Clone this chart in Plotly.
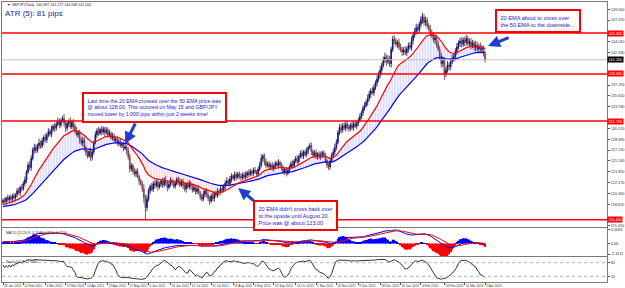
import pandas as pd
import plotly.graph_objects as go

# ---------------- data (GBPJPY daily) ----------------
first_open = 119.1
closes = [
    119.4, 119.2, 119.8, 119.5, 119.9, 119.6, 120.1, 119.8, 120.3, 120.9,
    120.6, 121.4, 121.2, 122.0, 122.6, 123.8, 124.9, 124.5, 125.9, 127.2,
    127.6, 127.1, 127.9, 128.3, 127.8, 128.6, 129.2, 128.8, 129.5, 130.1,
    129.7, 130.4, 130.9, 130.6, 131.2, 131.6, 131.1, 131.8, 132.1, 131.4,
    130.6, 131.3, 131.7, 130.8, 131.5, 130.9, 130.2, 129.6, 129.9, 128.8,
    128.3, 128.7, 127.6, 126.8, 126.3, 127.0, 126.1, 126.9, 128.4, 129.6,
    130.2, 129.8, 130.4, 130.0, 130.5, 129.9, 130.3, 129.6, 129.8, 129.1,
    129.4, 128.7, 128.9, 128.3, 128.5, 127.9, 128.1, 127.5, 127.7, 127.1,
    126.2, 124.3, 124.8, 123.9, 123.5, 123.9, 123.1, 122.4, 122.0, 121.2,
    119.8, 118.3, 119.6, 120.9, 121.6, 121.1, 122.0, 121.7, 122.3, 121.5,
    121.9, 122.4, 121.8, 122.6, 122.1, 121.4, 121.9, 122.5, 122.2, 121.6,
    122.0, 122.7, 122.3, 121.8, 122.4, 121.7, 121.2, 121.9, 121.5, 122.1,
    121.6, 121.0, 121.4, 120.8, 121.2, 120.6, 120.0, 119.6, 120.4, 120.9,
    120.3, 119.8, 119.3, 120.1, 119.7, 120.5, 120.2, 120.8, 120.6, 121.2,
    121.0, 121.6, 122.1, 122.4, 122.0, 122.7, 123.2, 122.8, 123.4, 123.0,
    123.5, 123.1, 122.9, 123.4, 123.0, 123.3, 123.7, 123.4, 123.9, 123.6,
    124.1, 123.8, 123.5, 124.2, 124.9, 125.9, 126.3, 125.4, 124.8, 125.1,
    124.6, 124.9, 124.4, 124.7, 125.2, 124.8, 125.3, 124.9, 124.3, 123.8,
    124.2, 123.6, 124.0, 124.6, 125.1, 124.8, 125.5, 125.9, 125.4, 126.2,
    126.7, 126.3, 126.9, 126.5, 127.1, 127.6, 127.9, 127.0, 126.4, 126.8,
    126.2, 126.6, 126.1, 126.5, 126.8, 126.3, 125.6, 124.9, 124.6, 125.5,
    126.4, 126.9, 127.6, 128.4, 129.9, 130.7, 130.3, 131.0, 130.6, 131.2,
    130.8, 130.5, 131.1, 130.7, 131.3, 130.9, 131.4, 131.8, 132.4, 133.0,
    133.7, 134.1, 134.6, 135.2, 135.9, 136.4, 136.1, 136.9, 137.6, 138.2,
    138.9, 139.6, 140.4, 141.2, 141.6, 140.9, 141.3, 140.6, 142.8, 144.4,
    144.1, 143.6, 143.9, 143.2, 142.8, 142.4, 142.7, 142.3, 142.9, 143.4,
    143.1, 144.2, 145.0, 145.6, 146.2, 145.8, 146.7, 147.4, 147.8, 147.0,
    147.3, 146.5, 146.0, 145.4, 145.0, 144.3, 144.6, 143.6, 142.9, 141.8,
    140.6, 141.1, 139.0, 139.6, 140.4, 140.1, 140.9, 141.4, 141.7, 142.5,
    143.2, 143.8, 144.1, 143.6, 144.3, 143.9, 144.5, 143.7, 144.0, 143.4,
    143.8, 143.1, 143.5, 142.9, 143.3, 142.8, 143.0, 142.2, 141.2,
]
# upper / lower wick lengths, tenths of a yen
wick_up = [
    3,4,2,5,3,4,3,5,2,4, 5,3,6,4,5,3,4,6,5,4, 6,5,3,7,4,5,3,6,4,5,
    4,6,3,5,4,6,5,3,4,7, 5,4,3,6,4,5,4,6,3,5, 4,6,5,3,4,5,6,4,3,5,
    4,6,3,5,4,3,5,4,6,3, 5,4,3,5,4,6,3,4,5,3, 6,5,4,3,6,4,5,3,4,5,
    7,5,6,4,3,5,4,6,3,5, 4,3,5,4,6,3,4,5,3,4, 5,3,4,6,3,4,5,3,4,5,
    3,4,5,3,4,6,3,4,5,3, 4,5,3,4,6,3,4,5,3,4, 5,3,4,6,3,5,4,3,5,4,
    3,4,5,3,4,6,3,5,4,3, 4,5,3,4,5,6,3,4,5,3, 4,3,5,4,3,4,5,3,4,5,
    3,4,5,3,4,5,3,4,5,3, 4,5,3,4,5,3,4,5,3,4, 5,3,4,5,3,4,5,3,4,5,
    4,5,6,5,4,5,6,4,5,4, 5,4,3,5,4,6,3,4,5,3, 4,5,4,6,5,4,6,5,4,6,
    5,6,4,5,7,4,6,5,4,5, 6,5,4,6,5,4,5,6,4,5, 5,6,4,5,6,5,4,6,7,5,
    6,5,4,6,5,4,7,5,6,4, 5,6,4,5,6,4,5,6,4,5, 6,4,5,6,4,5,6,4,5,6,
    5,4,6,5,4,6,5,4,3,
]
wick_dn = [
    4,3,5,3,4,3,5,4,3,4, 3,5,4,3,4,5,3,4,5,3, 5,4,3,5,4,3,6,4,5,3,
    4,5,3,6,4,3,5,4,3,5, 6,4,5,3,4,5,4,3,5,6, 4,5,6,5,4,3,6,5,4,3,
    5,4,3,5,4,6,3,5,4,3, 4,5,3,4,5,3,4,5,3,6, 5,6,4,5,4,5,3,6,4,5,
    8,19,6,4,5,3,4,5,3,6, 3,4,5,3,4,6,3,4,5,3, 4,3,5,4,3,5,4,6,3,4,
    5,4,3,5,4,3,5,4,3,5, 4,5,6,3,4,5,3,4,5,3, 4,3,5,4,3,4,5,3,4,5,
    3,4,5,3,4,3,5,4,3,4, 4,3,5,4,3,4,5,6,4,3, 5,4,3,5,4,3,4,5,3,4,
    4,5,3,4,3,5,4,3,5,4, 3,4,5,3,4,5,3,6,4,3, 4,5,3,4,5,3,4,5,5,4,
    3,4,5,4,3,4,5,4,3,5, 4,5,3,4,5,3,4,5,3,4, 5,4,3,5,4,6,3,5,4,5,
    4,5,6,4,5,6,4,5,6,4, 5,4,6,5,4,6,5,4,5,6, 4,5,6,4,5,6,4,5,6,5,
    6,5,4,6,5,4,6,5,4,6, 6,5,9,5,4,6,5,4,5,6, 5,4,6,5,4,6,5,4,5,6,
    4,5,6,4,5,4,6,5,4,
]
ema20_seed, ema50_seed = 118.7, 118.4
ema12_seed, ema26_seed, signal_seed = 119.0, 118.6, 0.3

sr_levels = [145.35, 139.00, 131.70, 116.40]
price_ticks = [149.05, 147.37, 145.69, 144.01, 142.33, 140.65, 138.97, 137.29,
               135.61, 133.93, 132.25, 130.57, 128.89, 127.21, 125.53, 123.85,
               122.17, 120.49, 118.81, 117.13, 115.45]
date_labels = ["26 Jan 2012", "14 Feb 2012", "4 Mar 2012", "22 Mar 2012", "10 Apr 2012",
               "29 Apr 2012", "17 May 2012", "5 Jun 2012", "24 Jun 2012", "12 Jul 2012",
               "31 Jul 2012", "19 Aug 2012", "6 Sep 2012", "25 Sep 2012", "14 Oct 2012",
               "1 Nov 2012", "20 Nov 2012", "9 Dec 2012", "28 Dec 2012", "16 Jan 2013",
               "4 Feb 2013", "24 Feb 2013", "14 Mar 2013", "2 Apr 2013"]

# ---------------- derived series ----------------
n = min(len(closes), len(wick_up), len(wick_dn))
closes = closes[:n]
idx = list(range(n))
dates = pd.bdate_range("2012-01-26", periods=n)
opens = [first_open] + closes[:-1]
highs = [max(o, c) + u / 10 for o, c, u in zip(opens, closes, wick_up)]
lows = [min(o, c) - d / 10 for o, c, d in zip(opens, closes, wick_dn)]


def ema(vals, period, seed):
    a = 2.0 / (period + 1)
    e, out = seed, []
    for v in vals:
        e = e + a * (v - e)
        out.append(e)
    return out


def sma(vals, period):
    out = []
    for i in range(len(vals)):
        w = vals[max(0, i - period + 1):i + 1]
        out.append(sum(w) / len(w))
    return out


ema20 = ema(closes, 20, ema20_seed)
ema50 = ema(closes, 50, ema50_seed)
diff = [a - b for a, b in zip(ema20, ema50)]
hatch_col = ["rgba(80,80,255,0.33)" if d >= 0 else "rgba(255,80,80,0.33)" for d in diff]

e12 = ema(closes, 12, ema12_seed)
e26 = ema(closes, 26, ema26_seed)
macd = [a - b for a, b in zip(e12, e26)]
signal = ema(macd, 9, signal_seed)
hist = [a - b for a, b in zip(macd, signal)]
hist_col = ["#0000ff" if h >= 0 else "#ff0000" for h in hist]

raw_k = []
for i in range(n):
    lo = min(lows[max(0, i - 13):i + 1])
    hi = max(highs[max(0, i - 13):i + 1])
    raw_k.append(100 * (closes[i] - lo) / (hi - lo))
stoch = sma(raw_k, 3)

date_pos = [int(dates.searchsorted(pd.to_datetime(s, format="%d %b %Y"))) for s in date_labels]
# hide price ticks that sit under the level tags
tag_levels = sr_levels + [closes[-1]]
shown_ticks = [t for t in price_ticks if min(abs(t - lv) for lv in tag_levels) > 0.9]

# ---------------- geometry ----------------
W, H = 625, 288
ML, MR, MT, MB = 2, 18, 2, 5
PH = H - MT - MB


def py(p):  # pixel y -> paper
    return (H - MB - p) / PH


def pxx(p):  # pixel x -> paper
    return (p - ML) / (W - ML - MR)


x_range = [-0.64, 385.9]
main_range = [115.28, 150.16]
FONT = "Liberation Sans"
BORDER = "#7a7a7a"

fig = go.Figure()
fig.add_trace(go.Bar(x=idx, y=diff, base=ema50, width=0.4,
                     marker=dict(color=hatch_col, line=dict(width=0)),
                     hoverinfo="skip", xaxis="x", yaxis="y"))
fig.add_trace(go.Candlestick(x=idx, open=opens, high=highs, low=lows, close=closes,
                             increasing=dict(line=dict(color="#0c0c6a", width=0.8), fillcolor="#0c0c6a"),
                             decreasing=dict(line=dict(color="#6a2a2a", width=0.8), fillcolor="#d8d8d8"),
                             whiskerwidth=0, xaxis="x", yaxis="y"))
fig.add_trace(go.Scatter(x=idx, y=ema50, mode="lines", line=dict(color="#0000ff", width=1.2),
                         xaxis="x", yaxis="y"))
fig.add_trace(go.Scatter(x=idx, y=ema20, mode="lines", line=dict(color="#ff0000", width=1.2),
                         xaxis="x", yaxis="y"))

# MACD panel
m_hi = max(max(macd), max(signal))
m_lo = min(min(macd), min(signal))
pad = 0.08 * (m_hi - m_lo)
macd_range = [m_lo - pad, m_hi + pad]
hs = 0.3
fig.add_trace(go.Bar(x=idx, y=hist, width=0.75, marker=dict(color=hist_col, line=dict(width=0)),
                     xaxis="x2", yaxis="y2"))
fig.add_trace(go.Scatter(x=idx, y=macd, mode="lines", line=dict(color="#0000ff", width=1),
                         xaxis="x2", yaxis="y4"))
fig.add_trace(go.Scatter(x=idx, y=signal, mode="lines", line=dict(color="#ff0000", width=1),
                         xaxis="x2", yaxis="y4"))

# oscillator panel
fig.add_trace(go.Scatter(x=idx, y=stoch, mode="lines", line=dict(color="#000000", width=0.8),
                         xaxis="x3", yaxis="y3"))

tickfont = dict(family=FONT, size=3.8, color="#333333")
xcommon = dict(range=x_range, showgrid=False, zeroline=False, showline=True, mirror=True,
               linecolor=BORDER, linewidth=1, domain=[0, 1], automargin=False)
ycommon = dict(showgrid=False, zeroline=False, showline=True, mirror=True, automargin=False,
               linecolor=BORDER, linewidth=1, side="right", tickfont=tickfont,
               ticks="outside", ticklen=2, tickcolor="#555555")

fig.update_layout(
    width=W, height=H, margin=dict(l=ML, r=MR, t=MT, b=MB),
    paper_bgcolor="white", plot_bgcolor="white", showlegend=False, barmode="overlay",
    xaxis=dict(**xcommon, anchor="y", showticklabels=False, rangeslider=dict(visible=False)),
    xaxis2=dict(**xcommon, anchor="y2", showticklabels=False, matches="x"),
    xaxis3=dict(**xcommon, anchor="y3", matches="x", tickvals=date_pos, ticktext=date_labels,
                tickangle=0, tickfont=dict(family=FONT, size=3.2, color="#333333"), ticks="outside",
                ticklen=2, tickcolor="#555555", ticklabelposition="outside right"),
    yaxis=dict(**ycommon, domain=[py(227), py(2)], range=main_range,
               tickvals=shown_ticks, ticktext=[f"{v:.3f}" for v in shown_ticks]),
    yaxis2=dict(showgrid=False, zeroline=False, showline=True, mirror=True, linecolor=BORDER,
                linewidth=1, domain=[py(256), py(228)], anchor="x2", automargin=False,
                range=[macd_range[0] * hs, macd_range[1] * hs], showticklabels=False, ticks=""),
    yaxis4=dict(**{k: v for k, v in ycommon.items() if k not in ("showline", "mirror")},
                overlaying="y2", anchor="x2", range=macd_range,
                tickvals=[m_hi, 0, m_lo], ticktext=[f"{m_hi:.4f}", "0.00", f"{m_lo:.4f}"]),
    yaxis3=dict(**ycommon, domain=[py(282), py(257)], anchor="x3", range=[-5, 105],
                tickvals=[80, 20], ticktext=["80", "20"]),
)

shapes = []
for lv in sr_levels:
    shapes.append(dict(type="line", xref="x domain", x0=0, x1=1, yref="y", y0=lv, y1=lv,
                       line=dict(color="#ff0000", width=1.5)))
shapes.append(dict(type="line", xref="x domain", x0=0, x1=1, yref="y", y0=closes[-1], y1=closes[-1],
                   line=dict(color="#c0c0c0", width=1)))
for lv in (80, 20):
    shapes.append(dict(type="line", xref="x3 domain", x0=0, x1=1, yref="y3", y0=lv, y1=lv,
                       line=dict(color="#a0a0a0", width=0.8, dash="dot")))
fig.update_layout(shapes=shapes)

ann = []
for lv in sr_levels:
    ann.append(dict(xref="x domain", x=1.0, xanchor="left", yref="y", y=lv, text=f"{lv:.3f}",
                    showarrow=False, bgcolor="#ff0000", font=dict(family=FONT, size=3.8, color="white"),
                    borderpad=0.5))
ann.append(dict(xref="x domain", x=1.0, xanchor="left", yref="y", y=closes[-1], text=f"{closes[-1]:.3f}",
                showarrow=False, bgcolor="#000000", font=dict(family=FONT, size=3.8, color="white"),
                borderpad=0.5))
ann.append(dict(xref="paper", x=pxx(5), xanchor="left", yref="paper", y=py(1), yanchor="top",
                text="\u25bc GBPJPY,Daily  140.987 141.272 140.068 " + f"{closes[-1]:.3f}",
                showarrow=False, font=dict(family=FONT, size=3.6, color="#222222")))
ann.append(dict(xref="paper", x=pxx(3), xanchor="left", yref="paper", y=py(7), yanchor="top",
                text="ATR (5): 81 pips", showarrow=False,
                font=dict(family=FONT, size=8, color="#1c1ca0")))
ann.append(dict(xref="paper", x=pxx(4), xanchor="left", yref="paper", y=py(228.5), yanchor="top",
                text=f"MACD (12,26,9) {macd[-1]:.4f} {signal[-1]:.4f} {hist[-1]:.4f}",
                showarrow=False, font=dict(family=FONT, size=3.4, color="#222222")))
ann.append(dict(xref="paper", x=pxx(4), xanchor="left", yref="paper", y=py(258), yanchor="top",
                text=f"Stoch (14,3) {stoch[-1]:.4f}", showarrow=False,
                font=dict(family=FONT, size=3.4, color="#222222")))

boxes = [
    (50.5, 136.2, 5.25, "Last time the 20 EMA crossed over the 50 EMA price was<br>"
                        "@ about 128.00. This occured on May 15 and GBP/JPY<br>"
                        "moved lower by 1,000 pips within just 2 weeks time!"),
    (159.7, 119.46, 5.5, "20 EMA didn't cross back over<br>to the upside until August 20.<br>"
                         "Price was @ about 123.00"),
    (314.4, 149.08, 5.6, "20 EMA about to cross over<br>the 50 EMA to the downside..."),
]
for bx, by, fs, txt in boxes:
    ann.append(dict(xref="x", yref="y", x=bx, y=by, xanchor="left", yanchor="top", text=txt,
                    align="left", showarrow=False, font=dict(family=FONT, size=fs, color="#1a1ad0"),
                    bgcolor="white", bordercolor="#ff0000", borderwidth=2, borderpad=3.5))
arrows = [(78.0, 128.15, 85.0, 131.56), (150.2, 121.33, 161.0, 119.2), (309.9, 143.34, 324.0, 144.74)]
for hx, hy, tx, ty in arrows:
    ann.append(dict(xref="x", yref="y", x=hx, y=hy, axref="x", ayref="y", ax=tx, ay=ty, text="",
                    showarrow=True, arrowhead=2, arrowsize=0.8, arrowwidth=3, arrowcolor="#1f3fd0"))
fig.update_layout(annotations=ann)

fig.write_html("out.html")
